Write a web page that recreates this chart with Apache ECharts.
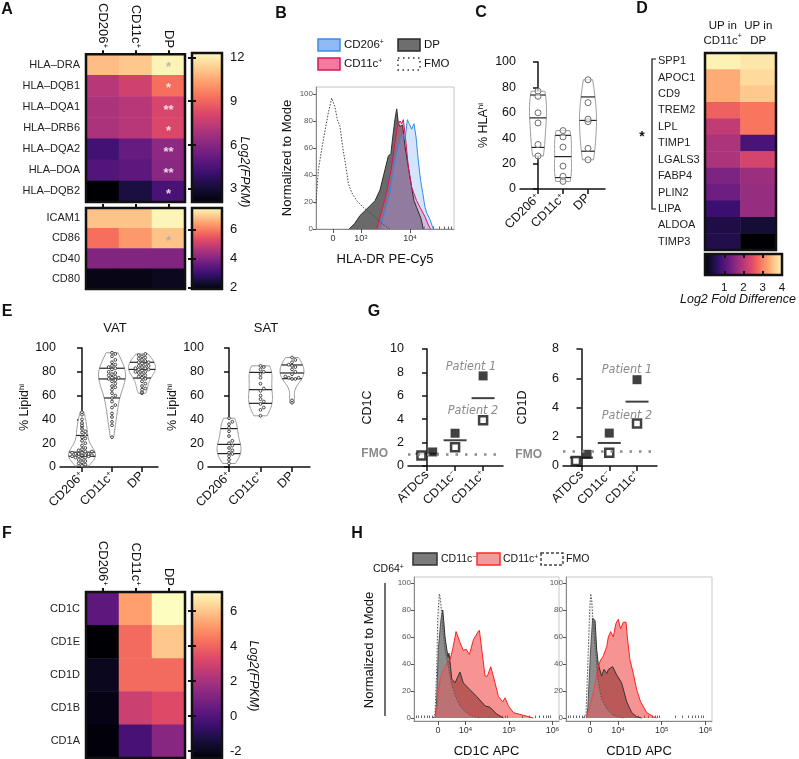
<!DOCTYPE html>
<html>
<head>
<meta charset="utf-8">
<script src="https://cdn.jsdelivr.net/npm/echarts@6/dist/echarts.min.js"></script>
<style>
  html, body { margin: 0; padding: 0; background: #fff; }
  #chart { width: 799px; height: 759px; }
</style>
</head>
<body>
<div id="chart"></div>
<script>
const FONT = "'Liberation Sans', Arial, sans-serif";
const NARROW = "'Liberation Sans Narrow', 'DejaVu Sans Condensed', sans-serif";
const MAGMA = ['#000004', '#140e36', '#3b0f70', '#641a80', '#8c2981', '#b73779',
  '#de4968', '#f7705c', '#fe9f6d', '#fecf92', '#fcfdbf'];

// ---- A: MHC / costim genes, Log2(FPKM)
const aCols = ['CD206+', 'CD11c+', 'DP'];
const aRows1 = ['HLA–DRA', 'HLA–DQB1', 'HLA–DQA1', 'HLA–DRB6', 'HLA–DQA2', 'HLA–DOA', 'HLA–DQB2'];
const aVals1 = [
  [10.9, 11.1, 12.1], [7.2, 7.8, 9.2], [6.9, 7.2, 8.0], [6.9, 7.2, 8.1],
  [4.3, 5.2, 6.2], [4.7, 5.0, 6.1], [2.1, 3.3, 4.5]];
const aStars1 = ['*', '*', '**', '*', '**', '**', '*'];
const aStarGray1 = [true, false, false, false, false, false, false];
const aRows2 = ['ICAM1', 'CD86', 'CD40', 'CD80'];
const aVals2 = [[6.8, 6.8, 7.4], [5.8, 6.3, 6.8], [4.0, 4.0, 4.0], [2.1, 2.1, 2.2]];
const aStars2 = ['', '*', '', ''];
const aStarGray2 = [false, true, false, false];

// ---- B: HLA-DR histograms (x in display channel units, y = % of mode)
const bFMO = [[0, 19], [17, 44], [53, 66], [89, 86], [114, 97], [138, 90], [155, 81], [174, 76], [193, 61],
  [217, 46], [234, 34], [258, 27], [295, 21], [343, 16], [391, 12], [428, 9], [478, 4], [536, 0]];
const bDP = [[240, 0], [280, 4], [319, 10], [360, 14], [428, 21], [464, 29], [500, 44], [524, 54], [543, 56],
  [556, 68], [572, 81], [585, 89], [597, 78], [609, 76], [628, 77], [645, 61], [669, 46], [693, 31],
  [710, 21], [729, 16], [760, 8], [778, 0]];
const bCD11c = [[440, 0], [464, 9], [512, 27], [548, 46], [572, 64], [589, 76], [609, 80], [621, 78], [633, 81],
  [650, 66], [669, 46], [693, 31], [729, 21], [754, 16], [790, 9], [814, 3], [830, 0]];
const bCD206 = [[470, 0], [488, 9], [536, 27], [572, 51], [609, 66], [628, 71], [645, 66], [662, 81], [676, 78],
  [693, 74], [710, 78], [725, 68], [741, 51], [758, 36], [773, 27], [790, 16], [802, 12], [826, 7], [850, 0]];
const bTickPos = [123, 326, 681];
const bTickText = ['0', '10^3', '10^4'];

// ---- C: % HLA-hi
const cCats = ['CD206+', 'CD11c+', 'DP'];
const hlaCD206 = [77, 73, 60, 52, 35, 26];
const hlaCD11c = [46, 41, 33, 18, 10, 6];
const hlaDP = [86, 68, 55, 53, 32, 23];

// ---- D: Log2 fold difference
const dCols = ['UP in\nCD11c+', 'UP in\nDP'];
const dRows = ['SPP1', 'APOC1', 'CD9', 'TREM2', 'LPL', 'TIMP1', 'LGALS3', 'FABP4', 'PLIN2', 'LIPA', 'ALDOA', 'TIMP3'];
const dVals = [[3.9, 3.8], [3.3, 3.7], [3.3, 3.55], [2.65, 2.85], [2.1, 2.85], [1.9, 0.95],
  [1.9, 2.3], [1.45, 1.75], [1.3, 1.7], [0.8, 1.7], [0.5, 0.4], [0.55, 0.0]];

// ---- E: % Lipid-hi
const eCats = ['CD206+', 'CD11c+', 'DP'];
const vatCD206 = [46, 44, 40, 37, 35, 34, 32, 30, 29, 27, 25, 24, 22, 20, 18, 16, 15, 14, 13, 13,
  12, 12, 11, 11, 11, 10, 10, 10, 9, 9, 9, 8, 8, 7, 6, 5, 4, 3, 2, 1];
const vatCD11c = [96, 95, 93, 90, 88, 86, 85, 84, 83, 82, 80, 79, 78, 77, 76, 75, 75, 74, 73, 72,
  70, 68, 67, 65, 62, 60, 58, 55, 52, 50, 45, 42, 38, 35, 25];
const vatDP = [95, 94, 93, 92, 91, 90, 89, 88, 88, 87, 86, 85, 85, 84, 83, 83, 82, 82, 81, 80,
  80, 79, 78, 77, 76, 75, 74, 72, 70, 68, 66, 65, 63, 62];
const satCD206 = [41, 38, 36, 33, 30, 26, 22, 20, 18, 16, 14, 12, 11, 9, 6, 3];
const satCD11c = [85, 84, 82, 80, 78, 75, 70, 66, 64, 60, 57, 55, 53, 50, 48, 43];
const satDP = [92, 90, 88, 86, 85, 84, 82, 80, 78, 76, 75, 75, 74, 74, 56, 54];

// ---- F: CD1 genes, Log2(FPKM)
const fRows = ['CD1C', 'CD1E', 'CD1D', 'CD1B', 'CD1A'];
const fVals = [[0.3, 5.2, 7.1], [-2.4, 4.1, 6.0], [-1.9, 4.1, 4.1], [-2.1, 2.8, 3.3], [-2.3, -0.2, 1.3]];

// ---- G: CD1C / CD1D per patient
const gCats = ['ATDCs', 'CD11c-', 'CD11c+'];
const cd1cP1 = [1.2, 2.8, 7.7];
const cd1cP2 = [0.9, 1.6, 3.9];
const cd1dP1 = [0.8, 2.25, 5.9];
const cd1dP2 = [0.35, 0.9, 2.9];
const FMO_LEVEL = 1;

// ---- H: CD1C / CD1D histograms on CD64+ cells
const h1FMO = [[133, 0], [145, 3], [157, 38], [164, 75], [175, 92], [182, 88], [191, 78], [200, 64], [214, 50],
  [237, 38], [260, 25], [290, 15], [317, 9], [350, 5], [386, 2], [455, 0]];
const h1Neg = [[145, 0], [155, 10], [168, 51], [186, 73], [198, 80], [205, 72], [214, 60], [226, 51], [235, 45],
  [241, 48], [250, 40], [260, 29], [283, 26], [317, 34], [340, 26], [386, 21], [432, 16], [490, 9],
  [524, 8], [570, 3], [616, 0]];
const h1Pos = [[145, 0], [160, 8], [168, 21], [191, 33], [226, 40], [248, 43], [267, 51], [290, 64], [317, 56],
  [340, 50], [359, 51], [382, 47], [410, 58], [437, 63], [451, 65], [467, 51], [490, 31], [506, 31],
  [529, 38], [552, 29], [582, 16], [611, 12], [628, 15], [651, 9], [685, 4], [754, 2], [823, 0]];
const h2FMO = [[119, 0], [137, 3], [153, 51], [162, 80], [169, 92], [176, 88], [183, 75], [192, 62], [205, 46],
  [221, 26], [244, 14], [279, 7], [324, 2], [393, 0]];
const h2Neg = [[140, 0], [150, 8], [169, 51], [183, 74], [192, 75], [199, 72], [210, 51], [221, 40], [244, 31],
  [260, 36], [267, 37], [280, 33], [290, 36], [320, 38], [347, 32], [381, 26], [416, 12], [450, 4],
  [484, 1], [518, 0]];
const h2Pos = [[137, 0], [150, 3], [164, 9], [192, 21], [210, 33], [233, 42], [256, 46], [279, 53], [290, 60],
  [306, 64], [324, 60], [342, 70], [358, 73], [374, 66], [393, 71], [411, 71], [420, 60], [438, 43],
  [461, 33], [484, 21], [511, 12], [553, 4], [598, 1], [621, 0]];
const hTickPos = [165, 355, 655, 955];
const hTickText = ['0', '10^4', '10^5', '10^6'];

// ------------------------------------------------------------------
const grid = [], xAxis = [], yAxis = [], series = [], visualMap = [], graphic = [];
const addGrid = (left, top, width, height, extra) => grid.push(Object.assign({ left, top, width, height }, extra || {})) - 1;
const addX = (o) => xAxis.push(o) - 1;
const addY = (o) => yAxis.push(o) - 1;
const FRAME = { show: true, borderColor: '#111', borderWidth: 2.5, backgroundColor: 'transparent', z: 10 };

function rich(fs, color) {
  return {
    n: { fontSize: fs, color, fontFamily: FONT },
    s: { fontSize: Math.round(fs * 0.62), color, fontFamily: FONT, verticalAlign: 'top' },
  };
}
// 'CD206+' -> name with superscript sign, '10^4' -> power
function richLabel(t) {
  if (t.indexOf('^') > 0) { const p = t.split('^'); return `{n|${p[0]}}{s|${p[1]}}`; }
  const m = t.match(/^(.*?)([+-])$/);
  return m ? `{n|${m[1]}}{s|${m[2] === '-' ? '−' : '+'}}` : `{n|${t}}`;
}

function addHeatmap(g, cols, rows, vals, vmin, vmax, xLabel, yLabel) {
  const xi = addX({
    gridIndex: g, type: 'category', data: cols, position: 'top', z: 12,
    axisLine: { show: false },
    axisTick: { show: true, alignWithLabel: true, length: 4, lineStyle: { color: '#111', width: 2 } },
    axisLabel: Object.assign({ interval: 0, hideOverlap: false }, xLabel),
  });
  const yi = addY({
    gridIndex: g, type: 'category', data: rows, inverse: true,
    axisLine: { show: false }, axisTick: { show: false }, axisLabel: Object.assign({ interval: 0 }, yLabel),
  });
  const data = [];
  vals.forEach((row, i) => row.forEach((v, j) => data.push([j, i, v])));
  series.push({ type: 'heatmap', xAxisIndex: xi, yAxisIndex: yi, data, silent: true });
  visualMap.push({
    type: 'continuous', show: false, min: vmin, max: vmax, dimension: 2,
    seriesIndex: series.length - 1, inRange: { color: MAGMA },
  });
  return { xi, yi };
}

function addStars(h, stars, gray) {
  series.push({
    type: 'scatter', xAxisIndex: h.xi, yAxisIndex: h.yi, silent: true, symbolSize: 1, z: 5,
    itemStyle: { color: 'rgba(0,0,0,0)' },
    label: { show: true, position: 'inside', offset: [0, 3], fontSize: 13, fontWeight: 'bold' },
    data: stars.map((s, i) => s ? { value: [2, i], label: { formatter: s, color: gray[i] ? '#a8a8a8' : '#fff' } } : null)
      .filter(Boolean),
  });
}

function gradientRect(stops, horizontal) {
  return (params, api) => {
    const a = api.coord([api.value(0), api.value(3)]);
    const b = api.coord([api.value(1), api.value(2)]);
    return {
      type: 'rect', shape: { x: a[0], y: a[1], width: b[0] - a[0], height: b[1] - a[1] },
      style: {
        fill: horizontal ? new echarts.graphic.LinearGradient(0, 0, 1, 0, stops)
          : new echarts.graphic.LinearGradient(0, 1, 0, 0, stops),
        stroke: '#111', lineWidth: 2.5,
      },
    };
  };
}
const STOPS = MAGMA.map((c, i) => ({ offset: i / (MAGMA.length - 1), color: c }));
const cbTick = (vals) => ({ show: true, inside: true, length: 4, customValues: vals, lineStyle: { color: '#111', width: 2 } });

function addColorbar(g, vmin, vmax, ticks) {
  const xi = addX({ gridIndex: g, type: 'value', min: 0, max: 1, show: false });
  const yi = addY({
    gridIndex: g, type: 'value', min: vmin, max: vmax, position: 'right', z: 12,
    axisLine: { show: false }, splitLine: { show: false }, axisTick: cbTick(ticks),
    axisLabel: { customValues: ticks, margin: 8, fontSize: 13, color: '#111' },
  });
  addY({
    gridIndex: g, type: 'value', min: vmin, max: vmax, position: 'left', z: 12,
    axisLine: { show: false }, splitLine: { show: false }, axisTick: cbTick(ticks), axisLabel: { show: false },
  });
  series.push({
    type: 'custom', xAxisIndex: xi, yAxisIndex: yi, silent: true,
    data: [[0, 1, vmin, vmax]], encode: { x: [0, 1], y: [2, 3] },
    renderItem: gradientRect(STOPS, false),
  });
}

function catAxis(g, cats, min, max, fs) {
  return addX({
    gridIndex: g, type: 'value', min, max, splitLine: { show: false },
    axisLine: { show: true, onZero: false, lineStyle: { color: '#111', width: 1.5 } },
    axisTick: { show: true, length: 5, customValues: cats.map((c, i) => i), lineStyle: { color: '#111', width: 1.5 } },
    axisLabel: {
      customValues: cats.map((c, i) => i), rotate: 45, margin: 7,
      formatter: (v) => richLabel(cats[Math.round(v)]), rich: rich(fs, '#111'),
    },
  });
}

function valAxis(g, min, max, interval, name, nameGap, fs) {
  return addY({
    gridIndex: g, type: 'value', min, max, interval, splitLine: { show: false },
    axisLine: { show: true, lineStyle: { color: '#111', width: 1.5 } },
    axisTick: { show: true, length: 5, lineStyle: { color: '#111', width: 1.5 } },
    axisLabel: { fontSize: fs, color: '#111', margin: 4 },
    name, nameLocation: 'middle', nameGap,
    nameTextStyle: { fontSize: fs, color: '#111', rich: rich(fs, '#111') },
  });
}

// GraphPad style quartile
function quantile(sorted, p) {
  const n = sorted.length, pos = (n + 1) * p, i = Math.floor(pos), f = pos - i;
  if (i < 1) return sorted[0];
  if (i >= n) return sorted[n - 1];
  return sorted[i - 1] + f * (sorted[i] - sorted[i - 1]);
}

function addViolins(xi, yi, groups, pt, halfW) {
  series.push({
    type: 'custom', xAxisIndex: xi, yAxisIndex: yi, silent: true,
    data: groups.map((g, i) => [i, Math.min(...g), Math.max(...g)]),
    encode: { x: 0, y: [1, 2] },
    renderItem(params, api) {
      const idx = params.dataIndex;
      const vals = groups[idx].slice().sort((a, b) => a - b);
      const n = vals.length;
      const mean = vals.reduce((s, v) => s + v, 0) / n;
      const sd = Math.sqrt(vals.reduce((s, v) => s + (v - mean) ** 2, 0) / (n - 1));
      const bw = 1.06 * sd * Math.pow(n, -0.2);
      const dens = (y) => vals.reduce((s, v) => s + Math.exp(-0.5 * ((y - v) / bw) ** 2), 0);
      const lo = vals[0], hi = vals[n - 1];
      const ys = [];
      for (let k = 0; k <= 40; k++) ys.push(lo + (hi - lo) * k / 40);
      const dmax = Math.max(...ys.map(dens));
      const unit = api.size([1, 0])[0];
      const cx = api.coord([idx, 0])[0];
      const wAt = (y) => dens(y) / dmax * halfW * unit;
      const right = ys.map((y) => [cx + wAt(y), api.coord([idx, y])[1]]);
      const left = ys.map((y) => [cx - wAt(y), api.coord([idx, y])[1]]).reverse();
      const children = [{
        type: 'polygon', shape: { points: right.concat(left) },
        style: { fill: '#fff', stroke: '#9a9a9a', lineWidth: 1 },
      }];
      [0.25, 0.5, 0.75].forEach((p) => {
        const v = quantile(vals, p);
        const y = api.coord([idx, v])[1], w = wAt(v);
        children.push({ type: 'line', shape: { x1: cx - w, y1: y, x2: cx + w, y2: y }, style: { stroke: '#222', lineWidth: 1.2 } });
      });
      // simple beeswarm kept inside the violin outline
      const placed = [];
      const gap = 2 * pt.r + pt.pad;
      vals.forEach((v) => {
        const y = api.coord([idx, v])[1];
        const limit = Math.max(0, wAt(v) - pt.r - 0.5);
        let best = 0, bestD = -1;
        for (let k = 0; k < 40; k++) {
          const off = (k % 2 ? 1 : -1) * Math.ceil(k / 2) * gap;
          if (Math.abs(off) > limit) continue;
          const d = placed.reduce((m, p) => Math.min(m, Math.hypot(p[0] - (cx + off), p[1] - y)), 1e9);
          if (d >= gap) { best = off; bestD = d; break; }
          if (d > bestD) { bestD = d; best = off; }
        }
        placed.push([cx + best, y]);
        children.push({ type: 'circle', shape: { cx: cx + best, cy: y, r: pt.r }, style: pt.style });
      });
      return { type: 'group', children };
    },
  });
}

function addHistogram(g, ticks, tickText, minors, ymin, ymax, yLabelFs, xName, curves) {
  const xi = addX({
    gridIndex: g, type: 'value', min: 0, max: 1000, splitLine: { show: false },
    axisLine: { show: true, onZero: false, lineStyle: { color: '#8a8a8a', width: 1 } },
    axisTick: { show: true, length: 4, customValues: ticks, lineStyle: { color: '#555' } },
    axisLabel: {
      customValues: ticks, margin: 5, formatter: (v) => richLabel(tickText[ticks.indexOf(v)]),
      rich: rich(9, '#333'),
    },
    name: xName, nameLocation: 'middle', nameGap: 24, nameTextStyle: { fontSize: 13, color: '#111' },
  });
  if (minors) {
    addX({
      gridIndex: g, type: 'value', min: 0, max: 1000, splitLine: { show: false },
      axisLine: { show: false }, axisLabel: { show: false },
      axisTick: { show: true, length: 2.5, customValues: minors, lineStyle: { color: '#666' } },
    });
  }
  const yTicks = [0, 20, 40, 60, 80, 100];
  const yi = addY({
    gridIndex: g, type: 'value', min: ymin, max: ymax, splitLine: { show: false },
    axisLine: { show: true, onZero: false, lineStyle: { color: '#8a8a8a', width: 1 } },
    axisTick: { show: true, length: 3, customValues: yTicks, lineStyle: { color: '#555' } },
    axisLabel: { customValues: yTicks, fontSize: yLabelFs, color: '#555', margin: 3 },
  });
  curves.forEach((c) => {
    series.push({
      type: 'line', xAxisIndex: xi, yAxisIndex: yi, data: c.data, showSymbol: false, symbol: 'none',
      silent: true, z: c.z || 2,
      lineStyle: { color: c.line, width: 1, type: c.dash || 'solid' },
      areaStyle: c.fill ? { color: c.fill, opacity: 1 } : undefined,
    });
  });
  return { xi, yi };
}

function addPatients(xi, yi, p1, p2) {
  const dodge = [0.2, 0, 0]; // ATDC points are set side by side
  series.push({
    type: 'scatter', xAxisIndex: xi, yAxisIndex: yi, silent: true, symbol: 'rect', symbolSize: [23, 2], z: 2,
    itemStyle: { color: '#111' },
    data: p1.map((v, i) => [i, (v + p2[i]) / 2]),
    markLine: {
      silent: true, symbol: 'none', label: { show: false },
      lineStyle: { color: '#8c8c8c', width: 2.5, type: [2.5, 7] },
      data: [{ yAxis: FMO_LEVEL }],
    },
  });
  series.push({
    type: 'scatter', xAxisIndex: xi, yAxisIndex: yi, silent: true, symbol: 'rect', symbolSize: 8, z: 3,
    itemStyle: { color: '#fff', borderColor: '#111', borderWidth: 2.5 },
    data: p2.map((v, i) => [i - dodge[i], v]),
  });
  series.push({
    type: 'scatter', xAxisIndex: xi, yAxisIndex: yi, silent: true, symbol: 'rect', symbolSize: 9, z: 3,
    itemStyle: { color: '#111' },
    data: p1.map((v, i) => [i + dodge[i], v]),
  });
}

// ------------------------------------------------------------------ A
const colLabel = { rotate: 90, margin: 6, formatter: richLabel, rich: rich(13, '#111') };
const rowLabel = { fontSize: 11, color: '#222', margin: 6 };
const hA1 = addHeatmap(addGrid(86, 53, 99, 149, FRAME), aCols, aRows1, aVals1, 2.1, 12.3, colLabel, rowLabel);
addStars(hA1, aStars1, aStarGray1);
const hA2 = addHeatmap(addGrid(86, 208, 99, 81, FRAME), aCols, aRows2, aVals2, 1.9, 7.5, { show: false }, rowLabel);
addStars(hA2, aStars2, aStarGray2);
addColorbar(addGrid(192, 53, 30, 149), 2.1, 12.3, [3, 6, 9, 12]);
addColorbar(addGrid(192, 208, 30, 81), 1.9, 7.5, [2, 4, 6]);

// ------------------------------------------------------------------ B
const bMinor = [];
for (let k = 1; k < 10; k++) bMinor.push(Math.round(326 + 355 * Math.log10(k)));
for (let k = 2; k < 10; k++) bMinor.push(Math.round(681 + 355 * Math.log10(k)));
addHistogram(addGrid(316, 87, 138, 142, { show: true, borderColor: '#c4c4c4', borderWidth: 1 }),
  bTickPos, bTickText, bMinor, 0, 105.2, 8, 'HLA-DR PE-Cy5', [
    { data: bDP, line: '#2e2e2e', fill: '#6a6a6a' },
    { data: bCD11c, line: '#d6175f', fill: 'rgba(240,98,146,0.38)' },
    { data: bCD206, line: '#2f8ded', fill: 'rgba(120,170,240,0.32)' },
    { data: bFMO, line: '#444', dash: [1.5, 1.5], z: 4 },
  ]);
Object.assign(yAxis[yAxis.length - 1], {
  name: 'Normalized to Mode', nameLocation: 'middle', nameGap: 22, nameTextStyle: { fontSize: 13, color: '#111' },
});

// ------------------------------------------------------------------ C
const gC = addGrid(520, 62, 85, 127);
const cx = catAxis(gC, cCats, -0.72, 2.68, 12.5);
const cy = valAxis(gC, 0, 100, 20, '{n|% HLA}{s|hi}', 30, 12.5);
addViolins(cx, cy, [hlaCD206, hlaCD11c, hlaDP],
  { r: 3, pad: 1, style: { fill: 'rgba(255,255,255,0.6)', stroke: '#6e6e6e', lineWidth: 1 } }, 0.34);

// ------------------------------------------------------------------ D
const hD = addHeatmap(addGrid(705, 53, 71, 197, FRAME), dCols, dRows, dVals, 0, 4,
  { margin: 5, lineHeight: 15, formatter: (v) => v.split('\n').map(richLabel).join('\n'), rich: rich(11.5, '#111') },
  { fontSize: 11, color: '#222', align: 'left', margin: 47 });
xAxis[hD.xi].axisTick.show = false;
const gDcb = addGrid(705, 254, 77, 21);
const dcbX = addX({
  gridIndex: gDcb, type: 'value', min: 0, max: 4, position: 'bottom', z: 12,
  axisLine: { show: false }, splitLine: { show: false }, axisTick: cbTick([1, 2, 3]),
  axisLabel: { customValues: [1, 2, 3, 4], margin: 7, fontSize: 11.5, color: '#111' },
});
addX({
  gridIndex: gDcb, type: 'value', min: 0, max: 4, position: 'top', z: 12,
  axisLine: { show: false }, splitLine: { show: false }, axisTick: cbTick([1, 2, 3]), axisLabel: { show: false },
});
const dcbY = addY({ gridIndex: gDcb, type: 'value', min: 0, max: 1, show: false });
series.push({
  type: 'custom', xAxisIndex: dcbX, yAxisIndex: dcbY, silent: true,
  data: [[0, 4, 0, 1]], encode: { x: [0, 1], y: [2, 3] },
  renderItem: gradientRect(STOPS, true),
});

// ------------------------------------------------------------------ E
const dotStyle = { r: 1.4, pad: 0.5, style: { fill: '#fff', stroke: '#333', lineWidth: 0.9 } };
const gVAT = addGrid(60, 348, 98, 119);
const vx = catAxis(gVAT, eCats, -0.733, 2.533, 12.5);
const vy = valAxis(gVAT, 0, 100, 20, '{n|% Lipid}{s|hi}', 23, 12.5);
addViolins(vx, vy, [vatCD206, vatCD11c, vatDP], dotStyle, 0.45);
const gSAT = addGrid(208, 348, 102, 119);
const sx = catAxis(gSAT, eCats, -0.667, 2.571, 12.5);
const sy = valAxis(gSAT, 0, 100, 20, '{n|% Lipid}{s|hi}', 23, 12.5);
addViolins(sx, sy, [satCD206, satCD11c, satDP], dotStyle, 0.38);

// ------------------------------------------------------------------ G
const gG1 = addGrid(408, 349, 95, 117);
const g1x = catAxis(gG1, gCats, -0.68, 2.71, 12.5);
const g1y = valAxis(gG1, 0, 10, 2, 'CD1C', 34, 12.5);
addPatients(g1x, g1y, cd1cP1, cd1cP2);
const gG2 = addGrid(563, 349, 94, 117);
const g2x = catAxis(gG2, gCats, -0.667, 2.72, 12.5);
const g2y = valAxis(gG2, 0, 8, 2, 'CD1D', 34, 12.5);
addPatients(g2x, g2y, cd1dP1, cd1dP2);

// ------------------------------------------------------------------ F
addHeatmap(addGrid(86, 592, 99, 166, FRAME), aCols, fRows, fVals, -2.4, 7.1, colLabel, rowLabel);
addColorbar(addGrid(192, 592, 30, 166), -2.4, 7.1, [-2, 0, 2, 4, 6]);

// ------------------------------------------------------------------ H
const hMinor = [];
for (let k = 1; k < 10; k++) hMinor.push(165 - 19 * k, 165 + 19 * k);
for (let k = 2; k < 10; k++) hMinor.push(Math.round(355 + 300 * Math.log10(k)), Math.round(655 + 300 * Math.log10(k)));
const hMinorOk = hMinor.filter((v) => v > 0 && v < 1000);
const hFrame = { show: true, borderColor: '#c8c8c8', borderWidth: 1 };
const histCurves = (fmo, neg, pos) => [
  { data: neg, line: '#333', fill: '#7c7c7c' },
  { data: pos, line: '#ff2020', fill: 'rgba(238,59,59,0.55)' },
  { data: fmo, line: '#555', dash: [1.5, 1.5], fill: 'rgba(190,190,190,0.25)', z: 4 },
];
addHistogram(addGrid(414, 577, 145, 145, hFrame), hTickPos, hTickText, hMinorOk, -2.2, 104.4, 8,
  'CD1C APC', histCurves(h1FMO, h1Neg, h1Pos));
addHistogram(addGrid(566, 577, 146, 145, hFrame), hTickPos, hTickText, hMinorOk, -2.2, 104.4, 8,
  'CD1D APC', histCurves(h2FMO, h2Neg, h2Pos));

// ------------------------------------------------------------------ free text
function text(t, x, y, o) {
  o = o || {};
  return {
    type: 'text', x, y, rotation: o.rotation || 0, silent: true, z: 50,
    style: Object.assign({
      text: t, fill: o.color || '#111', font: `${o.font || ''} ${o.fs || 12}px ${o.family || FONT}`,
      align: o.align || 'center', verticalAlign: 'middle',
    }, o.rich ? { rich: o.rich } : {}),
  };
}
const box = (x, y, w, h, fill, stroke, dash) => ({
  type: 'rect', silent: true, z: 50, shape: { x, y, width: w, height: h },
  style: { fill, stroke, lineWidth: 1.5, lineDash: dash || null },
});
[['A', 7, 10], ['B', 281, 14], ['C', 481, 13], ['D', 642, 9], ['E', 7, 312], ['G', 374, 312],
  ['F', 7, 534], ['H', 357, 534]].forEach((p) => graphic.push(text(p[0], p[1], p[2], { fs: 16, font: 'bold' })));
const GRAYTXT = '#8a8a8a';
graphic.push(
  text('Log2(FPKM)', 244, 172, { fs: 12.5, font: 'italic', rotation: -Math.PI / 2 }),
  text('Log2(FPKM)', 253, 676, { fs: 12.5, font: 'italic', rotation: -Math.PI / 2 }),
  text('Log2 Fold Difference', 738, 300, { fs: 12.5, font: 'italic' }),
  text('VAT', 115, 328, { fs: 13 }),
  text('SAT', 266, 328, { fs: 13 }),
  text('*', 642, 137, { fs: 14, font: 'bold' }),
  { type: 'polyline', silent: true, z: 50, shape: { points: [[656, 59], [652, 59], [652, 209], [656, 209]] },
    style: { stroke: '#111', lineWidth: 1.2, fill: null } },
  text('FMO', 388, 454, { fs: 12, align: 'right', font: 'bold', color: GRAYTXT }),
  text('FMO', 542, 455, { fs: 12, align: 'right', font: 'bold', color: GRAYTXT }),
  text('Patient 1', 471, 367, { fs: 12.5, font: 'italic', family: NARROW, color: GRAYTXT }),
  text('Patient 2', 473, 411, { fs: 12.5, font: 'italic', family: NARROW, color: GRAYTXT }),
  text('Patient 1', 627, 370, { fs: 12.5, font: 'italic', family: NARROW, color: GRAYTXT }),
  text('Patient 2', 627, 416, { fs: 12.5, font: 'italic', family: NARROW, color: GRAYTXT }),
  // B legend
  box(318, 39, 22, 12, '#8fbaf3', '#3b8de3'),
  text('{n|CD206}{s|+}', 344, 45, { align: 'left', rich: rich(11.5, '#111') }),
  box(398, 39, 22, 12, '#6e6e6e', '#2b2b2b'),
  text('DP', 424, 45, { fs: 11.5, align: 'left' }),
  box(318, 58, 22, 12, '#f57aa0', '#d6175f'),
  text('{n|CD11c}{s|+}', 344, 64, { align: 'left', rich: rich(11.5, '#111') }),
  box(398, 58, 22, 12, 'none', '#333', [1.5, 3.5]),
  text('FMO', 424, 64, { fs: 11.5, align: 'left' }),
  // H legend
  box(413, 553, 24, 12, '#7b7b7b', '#333'),
  text('{n|CD11c}{s|−}', 441, 559, { align: 'left', rich: rich(10.5, '#111') }),
  box(477, 553, 23, 12, '#f49a9a', '#ff2a2a'),
  text('{n|CD11c}{s|+}', 503, 559, { align: 'left', rich: rich(10.5, '#111') }),
  box(541, 553, 22, 12, 'none', '#444', [3, 2]),
  text('FMO', 566, 559, { fs: 10.5, align: 'left' }),
  text('{n|CD64}{s|+}', 373, 569, { align: 'left', rich: rich(10.5, '#111') }),
  text('Normalized to Mode', 369, 650, { fs: 13, rotation: Math.PI / 2 }),
  { type: 'line', silent: true, z: 50, shape: { x1: 385, y1: 583, x2: 385, y2: 716 }, style: { stroke: '#111', lineWidth: 1.2 } },
);

const chart = echarts.init(document.getElementById('chart'));
chart.setOption({
  animation: false,
  backgroundColor: '#fff',
  textStyle: { fontFamily: FONT },
  grid, xAxis, yAxis, series, visualMap, graphic,
});
</script>
